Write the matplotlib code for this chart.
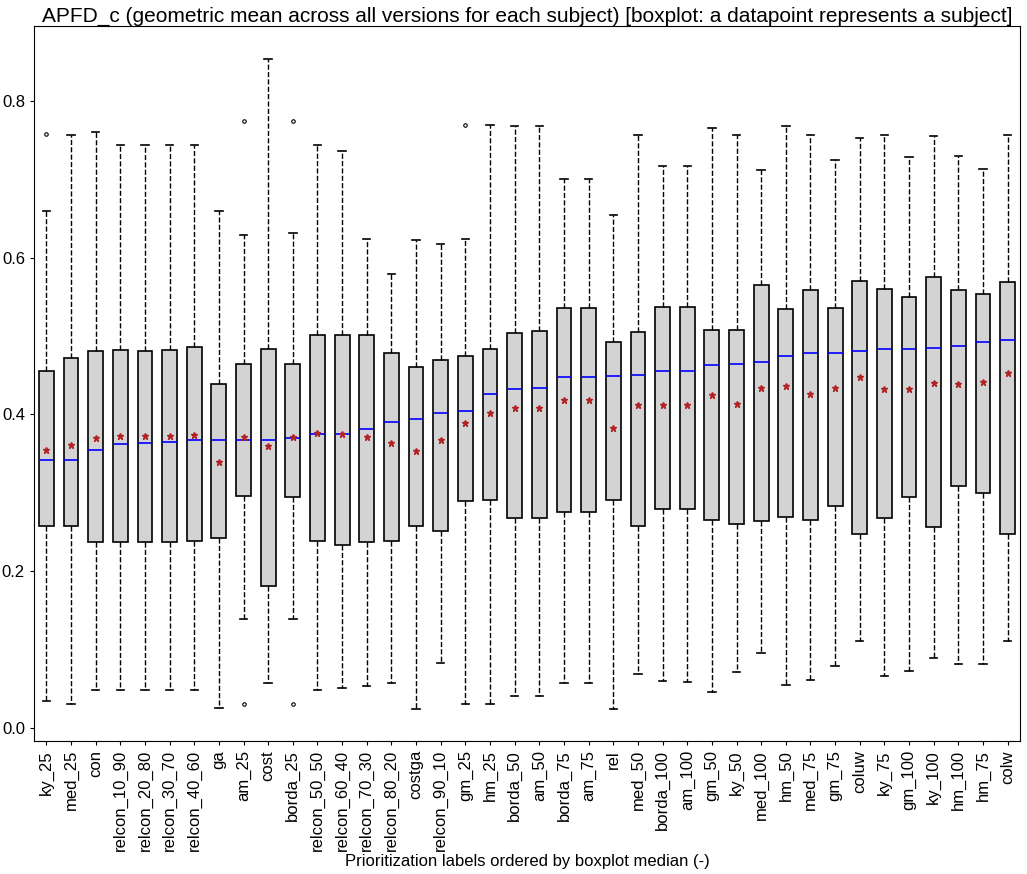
import numpy as np
import matplotlib.pyplot as plt

plt.rcParams['font.family'] = ['Liberation Sans', 'DejaVu Sans']

labels = ['ky_25', 'med_25', 'con', 'relcon_10_90', 'relcon_20_80', 'relcon_30_70',
          'relcon_40_60', 'ga', 'am_25', 'cost', 'borda_25', 'relcon_50_50',
          'relcon_60_40', 'relcon_70_30', 'relcon_80_20', 'costga', 'relcon_90_10',
          'gm_25', 'hm_25', 'borda_50', 'am_50', 'borda_75', 'am_75', 'rel', 'med_50',
          'borda_100', 'am_100', 'gm_50', 'ky_50', 'med_100', 'hm_50', 'med_75',
          'gm_75', 'coluw', 'ky_75', 'gm_100', 'ky_100', 'hm_100', 'hm_75', 'colw']

whislo = [0.034, 0.031, 0.049, 0.049, 0.049, 0.049, 0.049, 0.026, 0.139, 0.057,
          0.139, 0.049, 0.051, 0.053, 0.058, 0.024, 0.083, 0.031, 0.031, 0.041,
          0.041, 0.057, 0.057, 0.024, 0.069, 0.060, 0.059, 0.046, 0.071, 0.096,
          0.055, 0.061, 0.079, 0.111, 0.066, 0.073, 0.089, 0.081, 0.081, 0.111]
q1 = [0.258, 0.258, 0.237, 0.237, 0.237, 0.237, 0.239, 0.242, 0.296, 0.181,
      0.295, 0.238, 0.234, 0.237, 0.238, 0.258, 0.251, 0.289, 0.291, 0.268,
      0.268, 0.276, 0.276, 0.291, 0.258, 0.280, 0.280, 0.265, 0.260, 0.264,
      0.269, 0.265, 0.283, 0.248, 0.268, 0.295, 0.257, 0.309, 0.300, 0.248]
med = [0.342, 0.342, 0.355, 0.362, 0.364, 0.365, 0.367, 0.367, 0.368, 0.368,
       0.370, 0.375, 0.375, 0.381, 0.390, 0.394, 0.402, 0.405, 0.426, 0.433,
       0.434, 0.448, 0.448, 0.449, 0.450, 0.455, 0.455, 0.463, 0.465, 0.467,
       0.474, 0.478, 0.479, 0.481, 0.483, 0.484, 0.485, 0.487, 0.492, 0.495]
q3 = [0.456, 0.472, 0.481, 0.482, 0.481, 0.482, 0.486, 0.439, 0.464, 0.484,
      0.464, 0.501, 0.502, 0.502, 0.478, 0.461, 0.470, 0.474, 0.484, 0.504,
      0.506, 0.536, 0.536, 0.492, 0.505, 0.537, 0.537, 0.508, 0.508, 0.565,
      0.534, 0.559, 0.536, 0.570, 0.560, 0.550, 0.576, 0.559, 0.554, 0.569]
whishi = [0.660, 0.757, 0.760, 0.744, 0.744, 0.744, 0.744, 0.660, 0.629, 0.853,
          0.631, 0.744, 0.736, 0.624, 0.579, 0.623, 0.618, 0.624, 0.769, 0.768,
          0.768, 0.701, 0.701, 0.654, 0.756, 0.717, 0.717, 0.766, 0.757, 0.712,
          0.768, 0.756, 0.725, 0.753, 0.757, 0.729, 0.755, 0.730, 0.713, 0.756]
means = [0.355, 0.361, 0.370, 0.372, 0.373, 0.373, 0.374, 0.339, 0.371, 0.360,
         0.371, 0.376, 0.375, 0.371, 0.363, 0.354, 0.368, 0.389, 0.402, 0.408,
         0.408, 0.419, 0.419, 0.383, 0.412, 0.412, 0.412, 0.425, 0.413, 0.434,
         0.436, 0.426, 0.434, 0.448, 0.432, 0.432, 0.440, 0.439, 0.441, 0.453]
outliers = {'ky_25': [0.758], 'am_25': [0.775, 0.031], 'borda_25': [0.775, 0.031],
            'gm_25': [0.769]}

stats = []
for i, lab in enumerate(labels):
    stats.append({'label': lab, 'whislo': whislo[i], 'q1': q1[i], 'med': med[i],
                  'q3': q3[i], 'whishi': whishi[i], 'mean': means[i],
                  'fliers': outliers.get(lab, [])})

fig = plt.figure(figsize=(10.27, 8.74), dpi=100)
ax = fig.add_axes([0.0331, 0.1522, 0.9601, 0.8181])

ax.bxp(stats, widths=0.6, patch_artist=True, showmeans=True,
       boxprops=dict(facecolor='lightgray', edgecolor='black', linewidth=1.2),
       whiskerprops=dict(color='black', linestyle='--', linewidth=1),
       capprops=dict(color='black', linewidth=1.2),
       medianprops=dict(color='blue', linewidth=1.2),
       meanprops=dict(marker='*', markerfacecolor='#b22222', markeredgecolor='#b22222',
                      markersize=5),
       flierprops=dict(marker='o', markerfacecolor='none', markeredgecolor='black',
                       markersize=2.5, markeredgewidth=0.8))

ax.set_xlim(0.5, len(labels) + 0.5)
ax.set_ylim(-0.0166, 0.8957)
ax.set_yticks([0.0, 0.2, 0.4, 0.6, 0.8])
ax.tick_params(axis='x', labelsize=12, labelrotation=90, length=3)
ax.tick_params(axis='y', labelsize=12, length=3)

ax.set_title('APFD_c (geometric mean across all versions for each subject) '
             '[boxplot: a datapoint represents a subject]', fontsize=15, pad=3)
ax.set_xlabel('Prioritization labels ordered by boxplot median (-)', fontsize=12, labelpad=2)

plt.savefig('out.png', dpi=100)
